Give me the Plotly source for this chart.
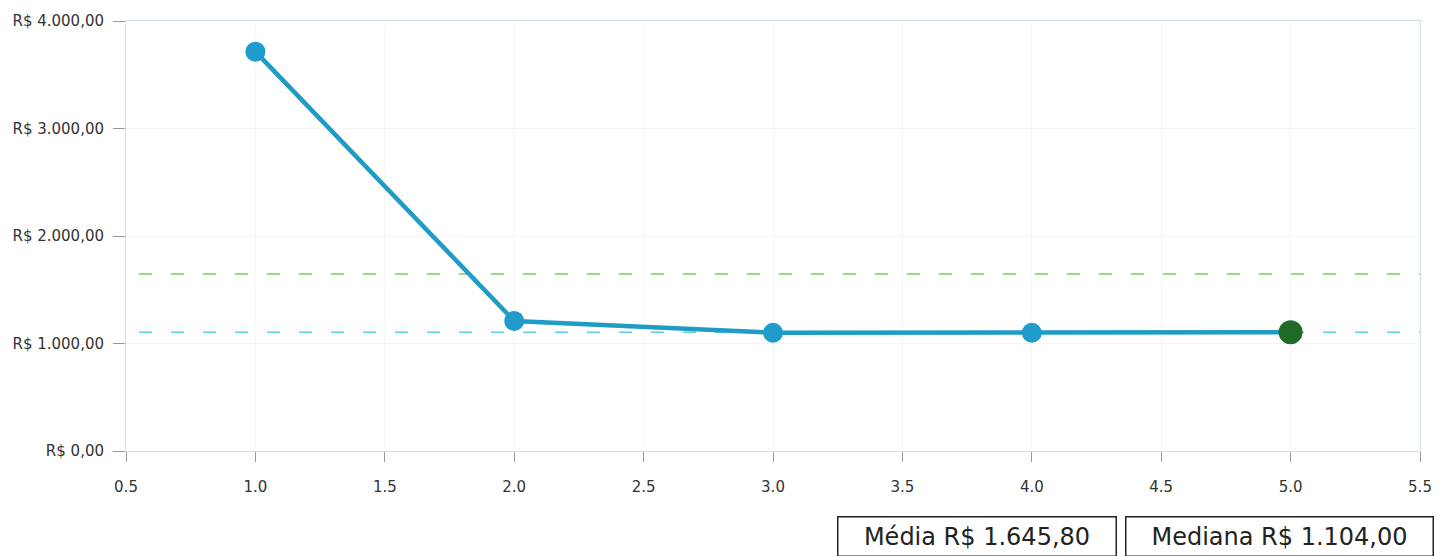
import plotly.graph_objects as go

x_vals = [1, 2, 3, 4, 5]
y_vals = [3715, 1210, 1100, 1100, 1104]
mean_val = 1645.80
median_val = 1104.00
y_ticks = [0, 1000, 2000, 3000, 4000]
y_tick_labels = ["R$ 0,00", "R$ 1.000,00", "R$ 2.000,00", "R$ 3.000,00", "R$ 4.000,00"]
x_ticks = [0.5, 1.0, 1.5, 2.0, 2.5, 3.0, 3.5, 4.0, 4.5, 5.0, 5.5]
x_tick_labels = ["0.5", "1.0", "1.5", "2.0", "2.5", "3.0", "3.5", "4.0", "4.5", "5.0", "5.5"]
mean_label = "Média R$ 1.645,80"
median_label = "Mediana R$ 1.104,00"

fig = go.Figure()

fig.add_trace(go.Scatter(
    x=[0.55, 5.5], y=[mean_val, mean_val], mode="lines",
    line=dict(color="#74cf5e", width=1.5, dash="13px,19px"), hoverinfo="skip", showlegend=False))
fig.add_trace(go.Scatter(
    x=[0.55, 5.5], y=[median_val, median_val], mode="lines",
    line=dict(color="#62cbe2", width=1.5, dash="13px,19px"), hoverinfo="skip", showlegend=False))

fig.add_trace(go.Scatter(
    x=x_vals, y=y_vals, mode="lines",
    line=dict(color="#1e9cc6", width=4.5), showlegend=False))
fig.add_trace(go.Scatter(
    x=x_vals[:-1], y=y_vals[:-1], mode="markers",
    marker=dict(color="#1f9ccb", size=20), showlegend=False))
fig.add_trace(go.Scatter(
    x=[x_vals[-1]], y=[y_vals[-1]], mode="markers",
    marker=dict(color="#1f6a26", size=24), showlegend=False))

fig.update_xaxes(
    range=[0.5, 5.5], tickvals=x_ticks, ticktext=x_tick_labels,
    showgrid=True, gridcolor="#f3f4f6", gridwidth=1, zeroline=False,
    showline=True, linecolor="#cfe2ea", linewidth=1, mirror=True,
    ticks="outside", ticklen=10, tickcolor="#999999", ticklabelstandoff=12,
    tickfont=dict(family="DejaVu Sans", size=15, color="#333333"))
fig.update_yaxes(
    range=[0, 4000], tickvals=y_ticks, ticktext=y_tick_labels,
    showgrid=True, gridcolor="#f3f4f6", gridwidth=1, zeroline=False,
    showline=True, linecolor="#cfe2ea", linewidth=1, mirror=True,
    ticks="outside", ticklen=12, tickcolor="#999999", ticklabelstandoff=6,
    tickfont=dict(family="DejaVu Sans", size=15, color="#333333"))

fig.add_annotation(
    x=0.766, y=-0.1517, xref="paper", yref="paper", xanchor="right", yanchor="top",
    text=mean_label, showarrow=False, width=267, align="center",
    font=dict(family="DejaVu Sans", size=24, color="#222222"),
    bordercolor="#222222", borderwidth=1.5, borderpad=5, bgcolor="white")
fig.add_annotation(
    x=1.0108, y=-0.1517, xref="paper", yref="paper", xanchor="right", yanchor="top",
    text=median_label, showarrow=False, width=296, align="center",
    font=dict(family="DejaVu Sans", size=24, color="#222222"),
    bordercolor="#222222", borderwidth=1.5, borderpad=5, bgcolor="white")

fig.update_layout(
    width=1449, height=556,
    margin=dict(l=125, r=29, t=16, b=105),
    plot_bgcolor="white", paper_bgcolor="white",
    showlegend=False)

fig.write_html("out.html", config={"displayModeBar": False},
               post_script="document.body.style.margin='0';document.body.style.overflow='hidden';")
